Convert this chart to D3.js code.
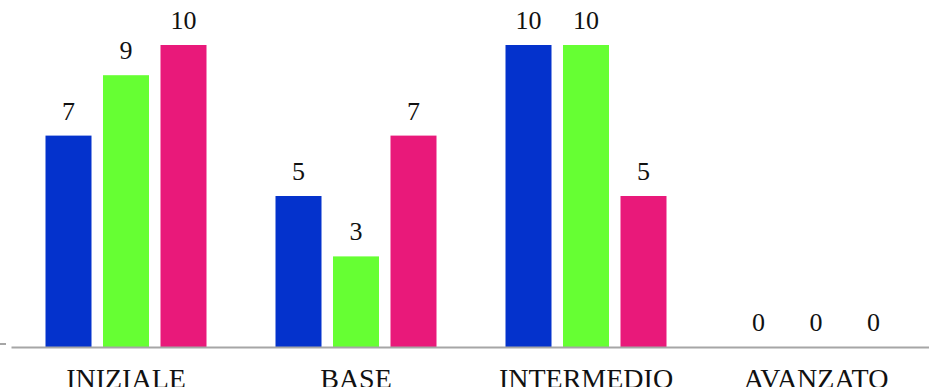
<!DOCTYPE html>
<html>
<head>
<meta charset="utf-8">
<script src="https://cdn.jsdelivr.net/npm/d3@7"></script>
<style>
  html, body { margin: 0; padding: 0; background: #fff; overflow: hidden; }
</style>
</head>
<body>
<div id="chart"></div>
<script>
var categories = ['INIZIALE', 'BASE', 'INTERMEDIO', 'AVANZATO'];
var seriesKeys = ['s1', 's2', 's3'];
var s1 = [7, 5, 10, 0];
var s2 = [9, 3, 10, 0];
var s3 = [10, 7, 5, 0];
var colors = ['#0432cc', '#66ff33', '#e9197a'];

var totalWidth = 929, totalHeight = 387;
var margin = { top: 45, right: -2, bottom: 40, left: 11 };
var width = totalWidth - margin.left - margin.right;
var height = totalHeight - margin.top - margin.bottom;

var data = categories.map(function (c, i) {
  return { cat: c, vals: [s1[i], s2[i], s3[i]] };
});

var svg = d3.select('#chart')
  .append('svg')
  .attr('width', totalWidth)
  .attr('height', totalHeight)
  .append('g')
  .attr('transform', 'translate(' + margin.left + ',' + margin.top + ')');

var x0 = d3.scaleBand().domain(categories).range([0, width]).padding(0);
var x1 = d3.scaleBand().domain(seriesKeys).range([0, x0.bandwidth()])
  .paddingInner(0.2).paddingOuter(0.6);
var y = d3.scaleLinear().domain([0, 10]).range([height, 0]);

var groups = svg.selectAll('g.grp')
  .data(data)
  .enter().append('g')
  .attr('class', 'grp')
  .attr('transform', function (d) { return 'translate(' + x0(d.cat) + ',0)'; });

groups.selectAll('rect')
  .data(function (d) { return d.vals.map(function (v, i) { return { k: seriesKeys[i], v: v, i: i }; }); })
  .enter().append('rect')
  .attr('x', function (d) { return x1(d.k); })
  .attr('y', function (d) { return y(d.v); })
  .attr('width', x1.bandwidth())
  .attr('height', function (d) { return height - y(d.v); })
  .attr('fill', function (d) { return colors[d.i]; });

groups.selectAll('text.val')
  .data(function (d) { return d.vals.map(function (v, i) { return { k: seriesKeys[i], v: v }; }); })
  .enter().append('text')
  .attr('class', 'val')
  .attr('x', function (d) { return x1(d.k) + x1.bandwidth() / 2; })
  .attr('y', function (d) { return y(d.v) - 16; })
  .attr('text-anchor', 'middle')
  .style('font-family', 'Liberation Serif, serif')
  .style('font-size', '26px')
  .style('fill', '#111')
  .text(function (d) { return d.v; });

// x axis: gray baseline, category labels below
var xAxis = d3.axisBottom(x0).tickSize(0).tickPadding(21);
var xAxisG = svg.append('g')
  .attr('transform', 'translate(0,' + height + ')')
  .call(xAxis);
xAxisG.select('.domain').attr('stroke', '#a6a6a6').attr('stroke-width', 2);
xAxisG.selectAll('text')
  .style('font-family', 'Liberation Serif, serif')
  .style('font-size', '28px')
  .style('fill', '#111');

// small tick stub left of the axis
svg.append('line')
  .attr('x1', -margin.left).attr('x2', -5)
  .attr('y1', height - 3).attr('y2', height - 3)
  .attr('stroke', '#a6a6a6').attr('stroke-width', 2);
</script>
</body>
</html>
